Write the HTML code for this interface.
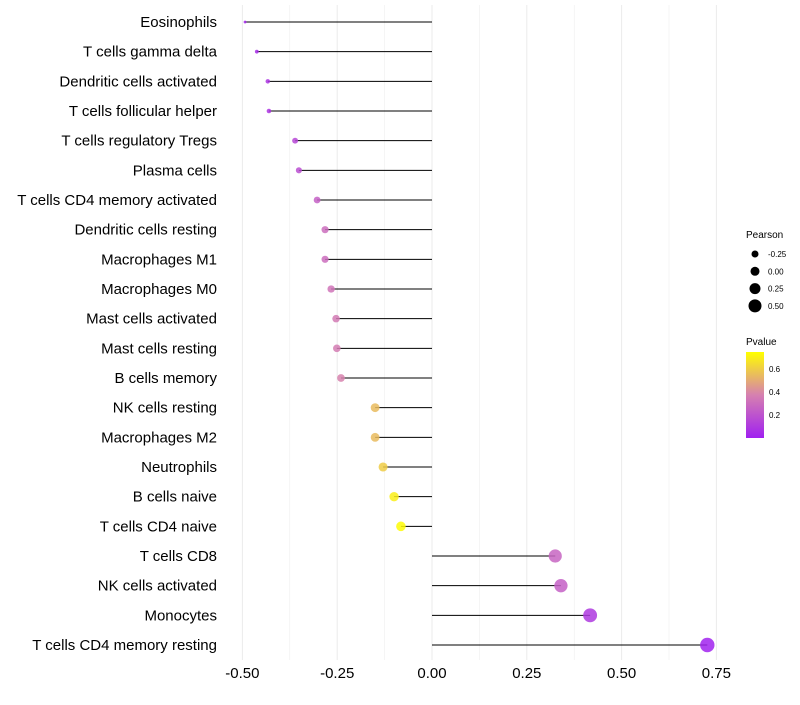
<!DOCTYPE html>
<html><head><meta charset="utf-8"><style>
body{margin:0;background:#fff;font-family:"Liberation Sans",sans-serif}
</style></head><body>
<svg id="chart" width="800" height="700" xmlns="http://www.w3.org/2000/svg"></svg>
<script>
const categories=["Eosinophils","T cells gamma delta","Dendritic cells activated","T cells follicular helper","T cells regulatory  Tregs","Plasma cells","T cells CD4 memory activated","Dendritic cells resting","Macrophages M1","Macrophages M0","Mast cells activated","Mast cells resting","B cells memory","NK cells resting","Macrophages M2","Neutrophils","B cells naive","T cells CD4 naive","T cells CD8","NK cells activated","Monocytes","T cells CD4 memory resting"];
const pearson=[-0.493,-0.462,-0.433,-0.430,-0.361,-0.351,-0.303,-0.282,-0.282,-0.266,-0.253,-0.251,-0.240,-0.150,-0.150,-0.129,-0.100,-0.082,0.325,0.340,0.417,0.726];
const pvalue=[0.03,0.05,0.08,0.08,0.15,0.18,0.25,0.3,0.3,0.33,0.35,0.36,0.38,0.55,0.55,0.6,0.7,0.74,0.27,0.25,0.1,0.01];
const xTicks=[-0.5,-0.25,0,0.25,0.5,0.75];
const xTickLabels=["-0.50","-0.25","0.00","0.25","0.50","0.75"];
const sizeLegend=[-0.25,0,0.25,0.5];
const sizeLegendLabels=["-0.25","0.00","0.25","0.50"];
const pTicks=[0.2,0.4,0.6];

const svg=document.getElementById('chart');
const NS="http://www.w3.org/2000/svg";
const x=v=>432+v*379.2;
const y=i=>22+i*(623/21);
const r=v=>Math.min(7.2,Math.sqrt(Math.max(2,27+50.6*v)));
function col(p){const t=Math.max(0,Math.min(1,p/0.75));
 const s=[[0,[160,32,240]],[0.5,[214,128,176]],[1,[255,255,0]]];
 let a=s[0],b=s[1];if(t>0.5){a=s[1];b=s[2];}
 const u=(t-a[0])/(b[0]-a[0]);
 return 'rgb('+a[1].map((c,k)=>Math.round(c+(b[1][k]-c)*u)).join(',')+')';}
function mk(tag,attrs,text){const e=document.createElementNS(NS,tag);for(const k in attrs)e.setAttribute(k,attrs[k]);if(text!==undefined)e.textContent=text;svg.appendChild(e);return e;}
for(let g=-0.5;g<=0.76;g+=0.125){const e=mk('line',{x1:x(g),x2:x(g),y1:5,y2:660,stroke:'#ebebeb','stroke-width':(Math.abs(g/0.25-Math.round(g/0.25))<1e-6)?1:0.5});

}
xTicks.forEach((v,i)=>{const t=mk('text',{x:x(v),y:678,'text-anchor':'middle','font-size':15,fill:'#000'},xTickLabels[i]);

});
categories.forEach((c,i)=>{
 const l=mk('text',{x:217,y:y(i)+5,'text-anchor':'end','font-size':15,fill:'#000'},c);
 
 
 const s=mk('line',{x1:x(0),x2:x(pearson[i]),y1:y(i),y2:y(i),stroke:'#000','stroke-width':1});
 
 
 const d=mk('circle',{cx:x(pearson[i]),cy:y(i),r:r(pearson[i]),fill:col(pvalue[i]),'fill-opacity':0.85});
 
 
});
const lt=mk('text',{x:746,y:238,'font-size':10},'Pearson');


sizeLegend.forEach((v,i)=>{const cy=254+i*17.3;
 const c=mk('circle',{cx:755,cy:cy,r:3.5+i*1,fill:'#000'});
 
 
 const t=mk('text',{x:768,y:cy+3,'font-size':8},sizeLegendLabels[i]);
 
 });
const pt=mk('text',{x:746,y:345,'font-size':10},'Pvalue');


const defs=mk('defs',{});
defs.innerHTML='<linearGradient id="pg" x1="0" y1="1" x2="0" y2="0"><stop offset="0" stop-color="rgb(160,32,240)"/><stop offset="0.5" stop-color="rgb(214,128,176)"/><stop offset="1" stop-color="rgb(255,255,0)"/></linearGradient>';
const bar=mk('rect',{x:746,y:352,width:18,height:86,fill:'url(#pg)'});


pTicks.forEach(v=>{const py=437-(v-0.009)/0.739*85;
 const t=mk('text',{x:769,y:py+3,'font-size':8},String(v));
 
 });
</script>
</body></html>
